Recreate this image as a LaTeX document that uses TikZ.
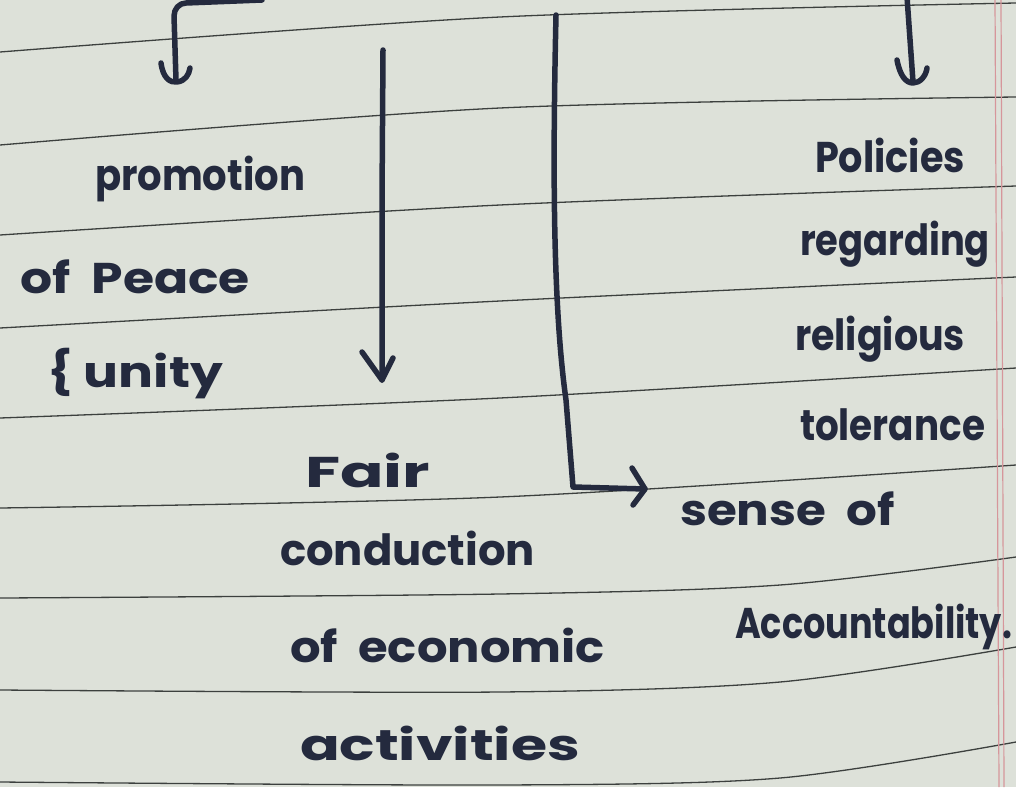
\documentclass[tikz,border=0pt]{standalone}
\usepackage{fontspec}
\usepackage{graphicx}
\newfontfamily\hand{Poppins}
\definecolor{paper}{RGB}{221,225,217}
\definecolor{rulec}{RGB}{60,64,62}
\definecolor{inkc}{RGB}{36,42,62}
\definecolor{marginc}{RGB}{214,150,155}
\newcommand\fitw[2]{\resizebox{#1}{\height}{#2}}
\tikzset{
  rulel/.style={draw=rulec, line width=1.3pt},
  marg/.style={draw=marginc, line width=1.2pt},
  pen/.style={draw=inkc, line width=5.5pt, line cap=round, line join=round},
  txt/.style={anchor=base west, inner sep=0pt, outer sep=0pt, text=inkc,
    font=\hand\bfseries\fontsize{43}{48}\selectfont},
}
\begin{document}
\begin{tikzpicture}[x=1pt,y=-1pt]
\fill[paper] (0,0) rectangle (1016,787);
\useasboundingbox (0,0) rectangle (1016,787);
% ruled lines
\draw[rulel] plot[smooth] coordinates {(0,52) (500,17) (1016,3)};
\draw[rulel] plot[smooth] coordinates {(0,145) (500,108) (1016,97)};
\draw[rulel] plot[smooth] coordinates {(0,235) (500,205) (1016,186)};
\draw[rulel] plot[smooth] coordinates {(0,328) (500,301) (1016,277)};
\draw[rulel] plot[smooth] coordinates {(0,418) (500,398) (1016,368)};
\draw[rulel] plot[smooth] coordinates {(0,508) (500,497) (1016,465)};
\draw[rulel] plot[smooth] coordinates {(0,598) (500,594) (780,585) (1016,557)};
\draw[rulel] plot[smooth] coordinates {(0,690) (500,692) (780,682) (1016,647)};
\draw[rulel] plot[smooth] coordinates {(0,782) (500,785) (780,778) (1016,742)};
% margin lines
\draw[marg] (995,0) -- (999,787);
\draw[marg] (1001,0) -- (1004,787);
% texts
\node[txt] (t1) at (95,190) {\fitw{210pt}{promotion}};
\node[txt] (t2) at (20,293) {\fitw{230pt}{of\ \ Peace}};
\node[txt] (t3) at (47,387) {\fitw{176pt}{\{\ unity}};
\node[txt] (t4) at (305,487) {\fitw{125pt}{Fair}};
\node[txt] (t5) at (280,565) {\fitw{255pt}{conduction}};
\node[txt] (t6) at (290,662) {\fitw{315pt}{of\ \ economic}};
\node[txt] (t7) at (300,760) {\fitw{280pt}{activities}};
\node[txt] (t8) at (815,172) {\fitw{150pt}{Policies}};
\node[txt] (t9) at (800,255) {\fitw{190pt}{regarding}};
\node[txt] (t10) at (795,350) {\fitw{170pt}{religious}};
\node[txt] (t11) at (800,440) {\fitw{185pt}{tolerance}};
\node[txt] (t12) at (680,525) {\fitw{215pt}{sense\ \ of}};
\node[txt] (t13) at (735,638) {\fitw{277pt}{Accountability.}};
% arrow endpoints
\coordinate (a1s) at (262,0);
\coordinate (a1e) at (176,80);
\coordinate (a2s) at (907,-3);
\coordinate (a2e) at (913,82);
\coordinate (a3s) at (383,50);
\coordinate (a3e) at (382,380);
\coordinate (a4s) at (556,15);
\coordinate (a4e) at (645,489);
% arrows
\draw[pen] (a1s) -- (186,3) to[out=180,in=90] (174,16) -- (a1e);
\draw[pen] (161,63) .. controls (163,78) and (170,83) .. (177,82) .. controls (185,81) and (189,75) .. (190,68);
\draw[pen] (a2s) -- (a2e);
\draw[pen] (897,60) .. controls (900,76) and (906,83) .. (913,83) .. controls (920,83) and (926,76) .. (927,68);
\draw[pen] (a3s) -- (382,200) -- (a3e);
\draw[pen] (362,352) -- (a3e) -- (393,358);
\draw[pen] (a4s) .. controls (553,150) and (552,300) .. (566,400) -- (573,487) -- (a4e);
\draw[pen] (632,468) -- (a4e) -- (633,505);
\end{tikzpicture}
\end{document}
